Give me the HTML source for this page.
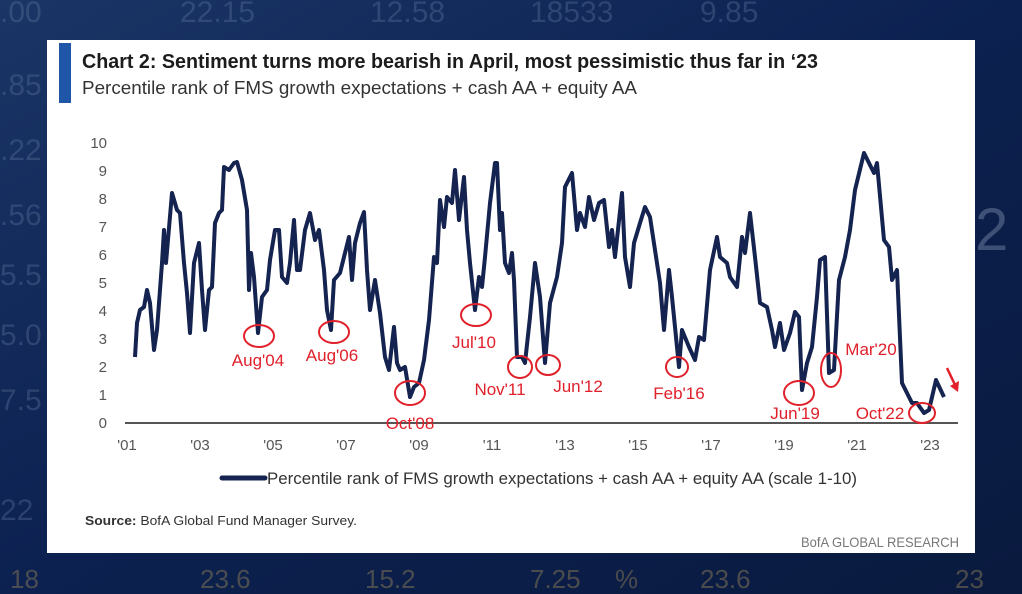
<!DOCTYPE html>
<html><head><meta charset="utf-8"><style>
html,body{margin:0;padding:0;width:1022px;height:594px;overflow:hidden;background:#0d2148;}
svg{display:block}
</style></head><body>
<svg width="1022" height="594" viewBox="0 0 1022 594" xmlns="http://www.w3.org/2000/svg">
<defs>
<linearGradient id="bg" x1="0" y1="0" x2="1" y2="1">
<stop offset="0" stop-color="#1a3566"/><stop offset="0.5" stop-color="#0c2150"/><stop offset="1" stop-color="#0a1a3e"/>
</linearGradient>
</defs>
<rect width="1022" height="594" fill="url(#bg)"/>
<g font-family="Liberation Sans, sans-serif" fill="#5a7098" opacity="0.4" font-size="30">
<text x="0" y="22">.00</text><text x="180" y="22">22.15</text><text x="370" y="22">12.58</text><text x="530" y="22">18533</text><text x="700" y="22">9.85</text>
<text x="0" y="95">.85</text><text x="0" y="160">.22</text><text x="0" y="225">.56</text><text x="0" y="285">5.5</text><text x="0" y="345">5.0</text><text x="0" y="410">7.5</text><text x="0" y="520">22</text>
<text x="975" y="250" font-size="60" fill="#8a9ab8">2</text>
</g>
<g font-family="Liberation Sans, sans-serif" font-size="26" opacity="0.5">
<text x="10" y="588" fill="#8b7a55">18</text><text x="200" y="588" fill="#8b7a55">23.6</text><text x="365" y="588" fill="#8b7a55">15.2</text><text x="530" y="588" fill="#8b7a55">7.25</text><text x="615" y="588" fill="#8b7a55">%</text><text x="700" y="588" fill="#8b7a55">23.6</text><text x="955" y="588" fill="#8b7a55">23</text>
</g>
<rect x="47" y="40" width="928" height="513" fill="#fff"/>
<rect x="59" y="43" width="12" height="60" fill="#1f56a8"/>
<text x="82" y="68" font-family="Liberation Sans, sans-serif" font-weight="bold" font-size="20" fill="#1c1c1c" textLength="736" lengthAdjust="spacingAndGlyphs">Chart 2: Sentiment turns more bearish in April, most pessimistic thus far in ‘23</text>
<text x="82" y="94" font-family="Liberation Sans, sans-serif" font-size="18" fill="#333" textLength="555" lengthAdjust="spacingAndGlyphs">Percentile rank of FMS growth expectations + cash AA + equity AA</text>
<g font-family="Liberation Sans, sans-serif" font-size="15" fill="#555" text-anchor="end">
<text x="107" y="428">0</text><text x="107" y="400">1</text><text x="107" y="372">2</text><text x="107" y="344">3</text><text x="107" y="316">4</text><text x="107" y="288">5</text><text x="107" y="260">6</text><text x="107" y="232">7</text><text x="107" y="204">8</text><text x="107" y="176">9</text><text x="107" y="148">10</text>
</g>
<line x1="125" y1="423" x2="958" y2="423" stroke="#555" stroke-width="2"/>
<g font-family="Liberation Sans, sans-serif" font-size="15" fill="#555" text-anchor="middle">
<text x="127" y="450">'01</text><text x="200" y="450">'03</text><text x="273" y="450">'05</text><text x="346" y="450">'07</text><text x="419" y="450">'09</text><text x="492" y="450">'11</text><text x="565" y="450">'13</text><text x="638" y="450">'15</text><text x="711" y="450">'17</text><text x="784" y="450">'19</text><text x="857" y="450">'21</text><text x="930" y="450">'23</text>
</g>
<polyline fill="none" stroke="#14234f" stroke-width="4" stroke-linejoin="round" points="135,357 137,323 140,310 144,307 147,290 150,303 154,350 157,330 162,263 164,230 166,263 172,193 177,210 180,213 184,263 187,293 190,333 194,263 199,243 202,290 205,330 209,290 212,287 215,223 219,213 222,210 224,167 229,170 234,163 237,162 242,180 247,210 249,290 251,253 254,277 258,333 262,297 267,290 270,260 275,230 279,230 282,277 287,283 290,263 294,220 297,270 300,270 305,230 310,213 315,240 319,230 324,270 327,310 331,330 334,280 340,273 344,257 349,237 352,280 355,243 360,223 364,212 367,270 370,310 375,280 380,313 385,357 389,370 394,327 397,363 400,370 405,367 410,397 414,387 419,383 424,360 429,320 434,257 437,263 440,200 444,227 447,197 452,203 455,170 459,220 464,177 467,230 470,263 475,310 479,277 482,287 485,257 490,203 495,163 497,163 500,230 502,213 505,263 509,273 512,253 514,280 517,357 522,357 525,363 530,317 535,263 540,297 545,363 550,303 557,277 562,243 565,187 572,173 577,230 580,213 585,227 589,197 594,220 599,203 604,200 609,247 612,230 615,257 622,193 625,257 630,287 634,243 640,223 645,207 650,217 655,250 660,283 664,330 669,270 672,297 679,367 682,330 689,347 695,360 699,337 704,340 710,270 717,237 720,257 727,263 730,277 737,287 742,237 745,253 750,213 755,257 760,303 767,307 772,330 775,347 780,323 784,350 790,333 795,312 799,317 802,390 807,363 812,347 817,297 820,260 825,257 829,373 834,370 839,280 845,257 850,230 855,190 864,153 869,163 874,173 877,163 884,240 889,247 892,280 897,270 902,383 907,393 912,403 917,403 924,413 929,410 936,380 944,397"/>
<g fill="none" stroke="#e0202a" stroke-width="2">
<ellipse cx="259" cy="336" rx="15" ry="11"/><ellipse cx="334" cy="332" rx="15" ry="11"/><ellipse cx="410" cy="393" rx="15" ry="12"/><ellipse cx="476" cy="315" rx="15" ry="11"/><ellipse cx="520" cy="367" rx="12" ry="11"/><ellipse cx="548" cy="365" rx="12" ry="10"/><ellipse cx="677" cy="367" rx="11" ry="10"/><ellipse cx="799" cy="393" rx="15" ry="12"/><ellipse cx="831" cy="370" rx="10" ry="17"/><ellipse cx="922" cy="413" rx="13" ry="10"/>
<line x1="947" y1="368" x2="956" y2="387" stroke-width="2.5"/>
</g>
<polygon points="958,392 950,386 959,381" fill="#e0202a"/>
<g font-family="Liberation Sans, sans-serif" font-size="17" fill="#e0202a" text-anchor="middle">
<text x="258" y="366">Aug'04</text><text x="332" y="361">Aug'06</text><text x="410" y="429">Oct'08</text><text x="474" y="348">Jul'10</text><text x="500" y="395">Nov'11</text><text x="578" y="392">Jun'12</text><text x="679" y="399">Feb'16</text><text x="795" y="419">Jun'19</text><text x="871" y="355">Mar'20</text><text x="880" y="419">Oct'22</text>
</g>
<line x1="222" y1="478" x2="265" y2="478" stroke="#14234f" stroke-width="5" stroke-linecap="round"/>
<text x="267" y="484" font-family="Liberation Sans, sans-serif" font-size="17" fill="#333" textLength="590" lengthAdjust="spacingAndGlyphs">Percentile rank of FMS growth expectations + cash AA + equity AA (scale 1-10)</text>
<text x="85" y="525" font-family="Liberation Sans, sans-serif" font-size="13" fill="#333" textLength="272" lengthAdjust="spacingAndGlyphs"><tspan font-weight="bold">Source:</tspan> BofA Global Fund Manager Survey.</text>
<text x="801" y="547" font-family="Liberation Sans, sans-serif" font-size="14" fill="#777" textLength="158" lengthAdjust="spacingAndGlyphs">BofA GLOBAL RESEARCH</text>
</svg>
</body></html>
